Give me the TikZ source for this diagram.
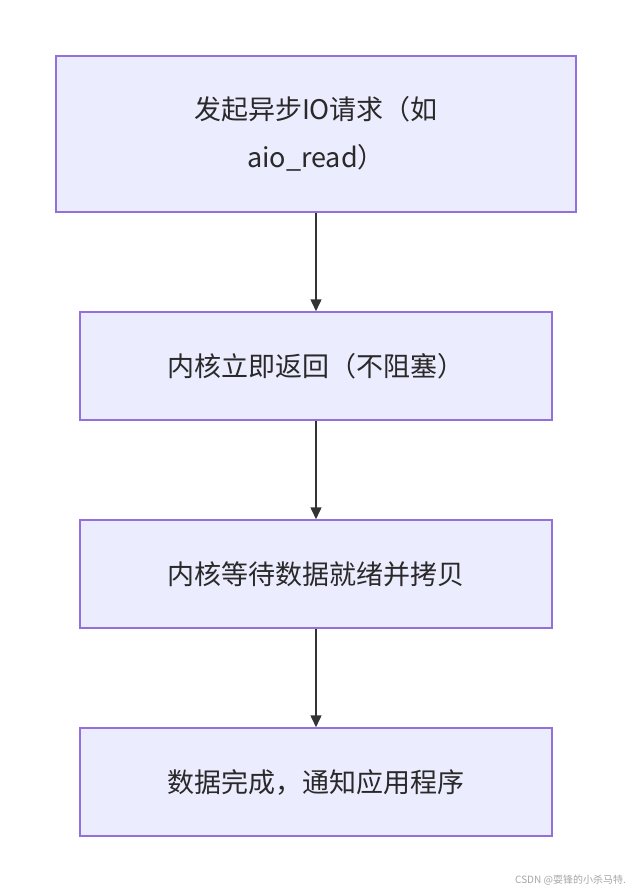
\documentclass[tikz,border=0pt]{standalone}
\usepackage{fontspec}
\setmainfont{Noto Sans CJK SC}
\usetikzlibrary{arrows.meta}
\definecolor{boxfill}{HTML}{ECECFF}
\definecolor{boxline}{HTML}{9370DB}
\definecolor{arr}{HTML}{333333}
\begin{document}
\begin{tikzpicture}[x=1pt,y=-1pt,
  box/.style={draw=boxline,fill=boxfill,line width=1.5pt,inner sep=0pt,text=arr!80!black,font=\fontsize{27}{48}\selectfont,align=center},
  link/.style={draw=arr,line width=1.5pt,-{Triangle[length=12pt,width=11pt]}}]
\useasboundingbox[fill=white] (0,0) rectangle (632,892);
\node[box,minimum width=520pt,minimum height=156pt] (a) at (316,134) {发起异步IO请求（如\\aio\_read）};
\node[box,minimum width=472pt,minimum height=108pt] (b) at (316,366) {内核立即返回（不阻塞）};
\node[box,minimum width=472pt,minimum height=108pt] (c) at (316,574) {内核等待数据就绪并拷贝};
\node[box,minimum width=472pt,minimum height=108pt] (d) at (316,782) {数据完成，通知应用程序};
\draw[link] (a) -- (b);
\draw[link] (b) -- (c);
\draw[link] (c) -- (d);
\node[anchor=east,text=gray!70,font=\fontsize{10}{12}\selectfont,inner sep=0pt] (w) at (626,880) {CSDN @耍锋的小杀马特.};
\end{tikzpicture}
\end{document}
